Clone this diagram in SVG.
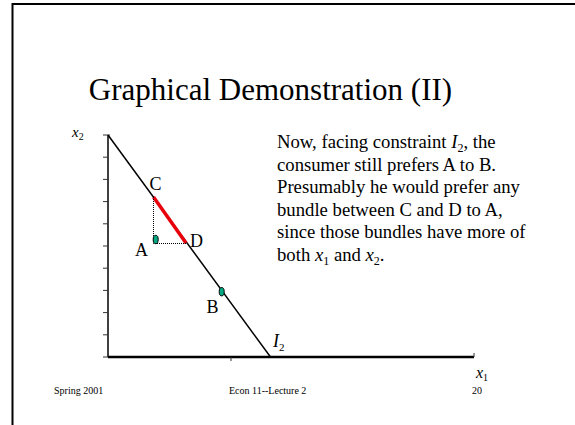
<svg xmlns="http://www.w3.org/2000/svg" width="575" height="425" viewBox="0 0 575 425">
<style>
  text { font-family: "Liberation Serif", "Times New Roman", serif; fill: #000; }
  .it { font-style: italic; }
  .axis { stroke: #000; fill: none; }
  .tick { stroke: #333; stroke-width: 1; }
  .dot { stroke: #000; stroke-width: 1; stroke-dasharray: 1 1; fill: none; }
  .pt { fill: #00a884; stroke: #000; stroke-width: 1; }
  .lbl { font-size: 18px; }
  .body { font-size: 18.7px; }
  .foot { font-size: 10px; }
</style>
<rect x="0" y="0" width="575" height="425" fill="#fff"/>
<rect id="frame" x="12.5" y="4" width="600" height="500" fill="none" stroke="#000" stroke-width="2"/>

<g id="title"><text x="270.5" y="100" font-size="31" text-anchor="middle">Graphical Demonstration (II)</text></g>

<g id="axes">
  <line class="axis" x1="108" y1="135" x2="108" y2="357" stroke-width="1.5" stroke="#444"/>
  <line class="axis" x1="108" y1="357" x2="474" y2="357" stroke-width="2.5"/>
  <line class="tick" x1="474" y1="353" x2="474" y2="357"/>
  <line class="tick" x1="231" y1="357" x2="231" y2="361"/>
  <g class="tick">
    <line x1="103" y1="135" x2="110" y2="135"/>
    <line x1="103" y1="157.2" x2="108" y2="157.2"/>
    <line x1="103" y1="179.4" x2="108" y2="179.4"/>
    <line x1="103" y1="201.6" x2="108" y2="201.6"/>
    <line x1="103" y1="223.8" x2="108" y2="223.8"/>
    <line x1="103" y1="246" x2="108" y2="246"/>
    <line x1="103" y1="268.2" x2="108" y2="268.2"/>
    <line x1="103" y1="290.4" x2="108" y2="290.4"/>
    <line x1="103" y1="312.6" x2="108" y2="312.6"/>
    <line x1="103" y1="334.8" x2="108" y2="334.8"/>
    <line x1="103" y1="357" x2="108" y2="357"/>
  </g>
  <text x="72" y="136.5" font-size="15" class="it">x<tspan font-size="10" dy="3" font-style="normal">2</tspan></text>
  <text x="476" y="378" font-size="16" class="it">x<tspan font-size="10" dy="3" font-style="normal">1</tspan></text>
</g>

<g id="connectors">
  <line id="budget-line" x1="108" y1="135" x2="270.5" y2="357" stroke="#000" stroke-width="1.5"/>
  <line id="cd-segment" x1="153.5" y1="197" x2="186" y2="243" stroke="#e8000b" stroke-width="3.5"/>
  <polyline class="dot" points="153.5,197 153.5,243.5 186,243.5"/>
</g>

<g id="node-A"><ellipse class="pt" cx="155.7" cy="239.5" rx="2.5" ry="4.2"/><text class="lbl" x="135" y="256">A</text></g>
<g id="node-B"><ellipse class="pt" cx="221.7" cy="291.7" rx="2.5" ry="4.2"/><text class="lbl" x="206.5" y="313">B</text></g>
<g id="node-C"><text class="lbl" x="149.5" y="190">C</text></g>
<g id="node-D"><text class="lbl" x="190" y="247">D</text></g>
<g id="label-I2"><text x="273" y="347" font-size="18" class="it">I<tspan font-size="11" dy="4" font-style="normal">2</tspan></text></g>

<g id="body-text" class="body">
  <text class="body" x="277" y="148">Now, facing constraint <tspan class="it">I</tspan><tspan font-size="12" dy="4">2</tspan><tspan dy="-4">, the</tspan></text>
  <text class="body" x="277" y="170.5">consumer still prefers A to B.</text>
  <text class="body" x="277" y="193">Presumably he would prefer any</text>
  <text class="body" x="277" y="215.5">bundle between C and D to A,</text>
  <text class="body" x="277" y="238">since those bundles have more of</text>
  <text class="body" x="277" y="260.5">both <tspan class="it">x</tspan><tspan font-size="12" dy="4">1</tspan><tspan dy="-4"> and </tspan><tspan class="it">x</tspan><tspan font-size="12" dy="4">2</tspan><tspan dy="-4">.</tspan></text>
</g>

<g id="footer" class="foot">
  <text class="foot" x="54" y="394">Spring 2001</text>
  <text class="foot" x="229" y="394">Econ 11--Lecture 2</text>
  <text class="foot" x="472" y="394">20</text>
</g>
</svg>
